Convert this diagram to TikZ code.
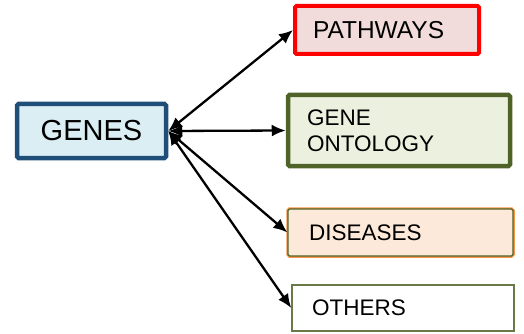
\documentclass[tikz,border=0pt]{standalone}
\usepackage{fontspec}
\setmainfont{Liberation Sans}
\usetikzlibrary{arrows.meta}

\definecolor{genesblue}{RGB}{31,78,121}
\definecolor{genesfill}{RGB}{218,238,243}
\definecolor{pathfill}{RGB}{242,220,219}
\definecolor{ontogreen}{RGB}{79,98,40}
\definecolor{ontofill}{RGB}{235,241,222}
\definecolor{disorange}{RGB}{247,150,70}
\definecolor{disfill}{RGB}{253,233,217}

\begin{document}
\begin{tikzpicture}[
    x=1pt, y=-1pt,
    box/.style={
        rectangle,
        rounded corners=1.5pt,
        align=left,
        inner ysep=0pt,
        font=\fontsize{22.5}{26}\selectfont
    },
    link/.style={
        {Latex[length=14pt,width=12pt]}-{Latex[length=14pt,width=12pt]},
        line width=2.3pt
    }
]
\useasboundingbox (0,0) rectangle (524,334);

\node[box, draw=genesblue, fill=genesfill, line width=4.5pt,
      minimum width=149pt, minimum height=54pt, align=center,
      font=\fontsize{29}{32}\selectfont] (genes) at (91.5,131) {GENES};

\node[box, draw=red, fill=pathfill, line width=4pt,
      minimum height=48pt, inner xsep=18pt, text width=148pt,
      font=\fontsize{24.5}{28}\selectfont] (pathways) at (387,30) {PATHWAYS};

\node[box, draw=ontogreen, fill=ontofill, line width=4.5pt,
      minimum height=71pt, inner xsep=19pt, text width=184pt] (ontology) at (399,130.5) {GENE\\ONTOLOGY};

\node[box, draw=ontogreen, fill=disfill, line width=1.2pt,
      preaction={draw=disorange, line width=3.5pt},
      minimum height=47pt, inner xsep=21pt, text width=183pt] (diseases) at (400.5,232.5) {DISEASES};

\node[box, rounded corners=0pt, draw=ontogreen!85, fill=white, line width=1.5pt,
      minimum height=46pt, inner xsep=20pt, text width=182pt] (others) at (403,308) {OTHERS};

\draw[link] (genes.east) -- (pathways.west);
\draw[link] (genes.east) -- (ontology.west);
\draw[link] (genes.east) -- (diseases.west);
\draw[link] (genes.east) -- (others.west);

\end{tikzpicture}
\end{document}
